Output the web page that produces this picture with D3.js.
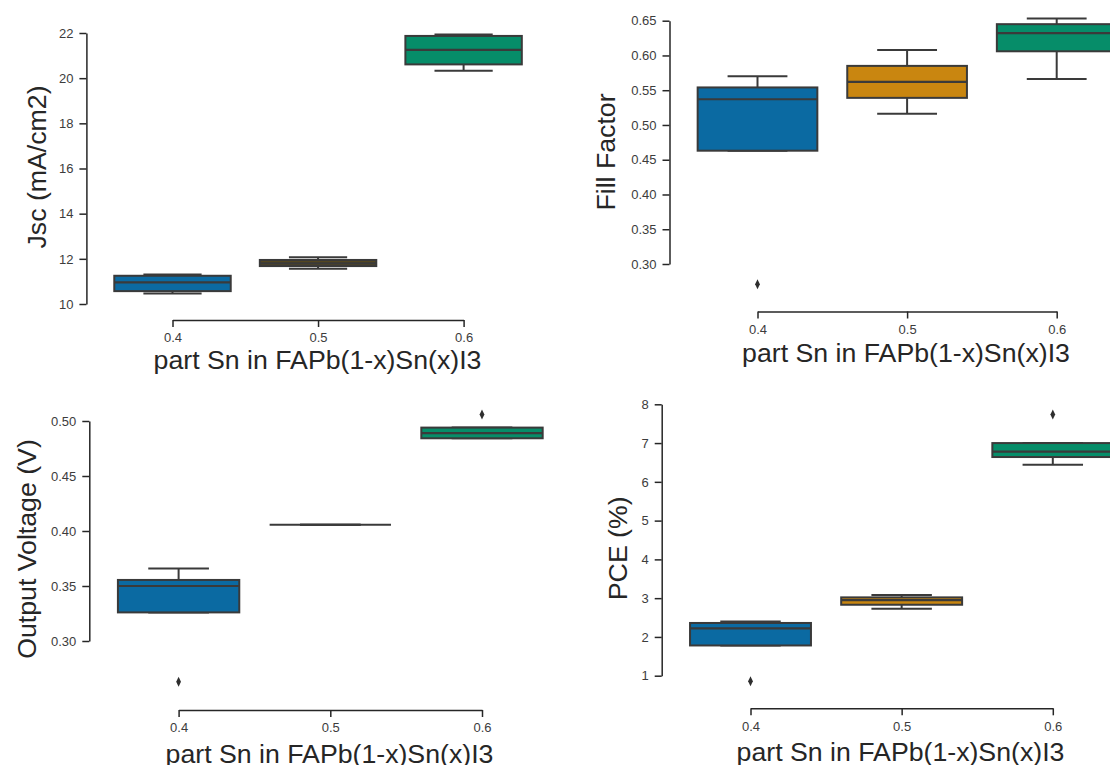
<!DOCTYPE html>
<html>
<head>
<meta charset="utf-8">
<script src="https://cdn.jsdelivr.net/npm/d3@7"></script>
<style>
  body { margin: 0; background: #fff; }
  text { font-family: "Liberation Sans", Arial, sans-serif; }
</style>
</head>
<body>
<svg id="chart" width="1110" height="765"></svg>
<script>
const categories = ["0.4", "0.5", "0.6"]
const xLabel = "part Sn in FAPb(1-x)Sn(x)I3"

// box summaries: [whisker low, q1, median, q3, whisker high]
const jscStats = [[10.47, 10.57, 10.96, 11.25, 11.31], [11.56, 11.68, 11.80, 11.95, 12.07], [20.33, 20.61, 21.25, 21.87, 21.93]]
const jscOutliers = [[], [], []]
const jscTicks = [10, 12, 14, 16, 18, 20, 22]

const ffStats = [[0.463, 0.463, 0.537, 0.554, 0.570], [0.516, 0.539, 0.562, 0.585, 0.608], [0.566, 0.606, 0.632, 0.645, 0.653]]
const ffOutliers = [[0.271], [], []]
const ffTicks = [0.30, 0.35, 0.40, 0.45, 0.50, 0.55, 0.60, 0.65]

const vocStats = [[0.326, 0.326, 0.350, 0.3555, 0.366], [0.4057, 0.4057, 0.4057, 0.4057, 0.4057], [0.4843, 0.4843, 0.489, 0.494, 0.494]]
const vocOutliers = [[0.263], [], [0.506]]
const vocTicks = [0.30, 0.35, 0.40, 0.45, 0.50]

const pceStats = [[1.78, 1.78, 2.22, 2.36, 2.40], [2.73, 2.83, 2.95, 3.02, 3.08], [6.44, 6.64, 6.78, 7.00, 7.00]]
const pceOutliers = [[0.86], [], [7.74]]
const pceTicks = [1, 2, 3, 4, 5, 6, 7, 8]

const palette = ["#0b6aa2", "#c98610", "#068d69"]
const palettePanel1 = ["#0b6aa2", "#54461f", "#068d69"] // middle box looks brown in the first panel
const lineGray = "#3a3a3a"

const svg = d3.select("#chart")

const panels = [
  {stats: jscStats, outliers: jscOutliers, ticks: jscTicks, fmt: d3.format("d"), ylabel: "Jsc (mA/cm2)", colors: palettePanel1,
   axisX: 86.4, yRange: [304, 33], xRange: [172.5, 463.6], axisY: 320,
   ylabelX: 46, ylabelY: 167, xlabelX: 317.5, xlabelY: 369},
  {stats: ffStats, outliers: ffOutliers, ticks: ffTicks, fmt: d3.format(".2f"), ylabel: "Fill Factor", colors: palette,
   axisX: 669.5, yRange: [264, 20.7], xRange: [757.5, 1056.7], axisY: 311.5,
   ylabelX: 615, ylabelY: 152, xlabelX: 906, xlabelY: 362},
  {stats: vocStats, outliers: vocOutliers, ticks: vocTicks, fmt: d3.format(".2f"), ylabel: "Output Voltage (V)", colors: palette,
   axisX: 89.3, yRange: [641, 421], xRange: [178.6, 482], axisY: 710,
   ylabelX: 35.5, ylabelY: 549, xlabelX: 329.5, xlabelY: 763},
  {stats: pceStats, outliers: pceOutliers, ticks: pceTicks, fmt: d3.format("d"), ylabel: "PCE (%)", colors: palette,
   axisX: 661.7, yRange: [675.7, 404.3], xRange: [750.5, 1052.8], axisY: 708.3,
   ylabelX: 626.5, ylabelY: 548.3, xlabelX: 900.5, xlabelY: 761}
]

function diamond(cx, cy){
  return `M${cx},${cy - 5}L${cx + 2.4},${cy}L${cx},${cy + 5}L${cx - 2.4},${cy}Z`
}

function drawPanel(p){
  const g = svg.append("g")
  const y = d3.scaleLinear().domain(d3.extent(p.ticks)).range(p.yRange)
  const x = d3.scalePoint().domain(categories).range(p.xRange)
  const boxW = x.step() * 0.8

  const boxes = g.selectAll("g.box")
    .data(p.stats.map((s, i) => ({cat: categories[i], s: s, out: p.outliers[i], color: p.colors[i]})))
    .join("g").attr("class", "box")

  boxes.each(function(d){
    const b = d3.select(this)
    const cx = x(d.cat)
    const [lo, q1, med, q3, hi] = d.s
    // whiskers and caps
    b.append("line").attr("x1", cx).attr("x2", cx).attr("y1", y(q3)).attr("y2", y(hi))
    b.append("line").attr("x1", cx).attr("x2", cx).attr("y1", y(q1)).attr("y2", y(lo))
    b.append("line").attr("x1", cx - boxW / 4).attr("x2", cx + boxW / 4).attr("y1", y(hi)).attr("y2", y(hi))
    b.append("line").attr("x1", cx - boxW / 4).attr("x2", cx + boxW / 4).attr("y1", y(lo)).attr("y2", y(lo))
    b.selectAll("line").attr("stroke", lineGray).attr("stroke-width", 2)
    b.append("rect")
      .attr("x", cx - boxW / 2).attr("y", y(q3))
      .attr("width", boxW).attr("height", Math.max(0, y(q1) - y(q3)))
      .attr("fill", d.color).attr("stroke", lineGray).attr("stroke-width", 2)
    b.append("line")
      .attr("x1", cx - boxW / 2).attr("x2", cx + boxW / 2).attr("y1", y(med)).attr("y2", y(med))
      .attr("stroke", lineGray).attr("stroke-width", 2.2)
    b.selectAll("path.flier").data(d.out).join("path")
      .attr("class", "flier")
      .attr("d", v => diamond(cx, y(v)))
      .attr("fill", "#2e2e2e")
  })

  // y axis trimmed to the tick range
  const ya = g.append("g").attr("transform", `translate(${p.axisX},0)`)
    .call(d3.axisLeft(y).tickValues(p.ticks).tickFormat(p.fmt).tickSize(7).tickPadding(6).tickSizeOuter(0))
  // x axis trimmed between first and last category
  const xa = g.append("g").attr("transform", `translate(0,${p.axisY})`)
    .call(d3.axisBottom(x).tickSize(7).tickPadding(6).tickSizeOuter(0))

  for(const a of [ya, xa]){
    a.select(".domain").attr("stroke", "#262626").attr("stroke-width", 1.5)
    a.selectAll(".tick line").attr("stroke", "#262626").attr("stroke-width", 1.5)
    a.selectAll(".tick text").attr("fill", "#3c3c3c").style("font-size", "13px")
      .style("font-family", "'Liberation Sans', Arial, sans-serif")
  }

  g.append("text")
    .attr("transform", `translate(${p.ylabelX},${p.ylabelY}) rotate(-90)`)
    .attr("text-anchor", "middle")
    .attr("fill", "#262626")
    .style("font-size", "26.7px")
    .text(p.ylabel)

  g.append("text")
    .attr("x", p.xlabelX).attr("y", p.xlabelY)
    .attr("text-anchor", "middle")
    .attr("fill", "#262626")
    .style("font-size", "26.7px")
    .text(xLabel)
}

panels.forEach(drawPanel)
</script>
</body>
</html>
